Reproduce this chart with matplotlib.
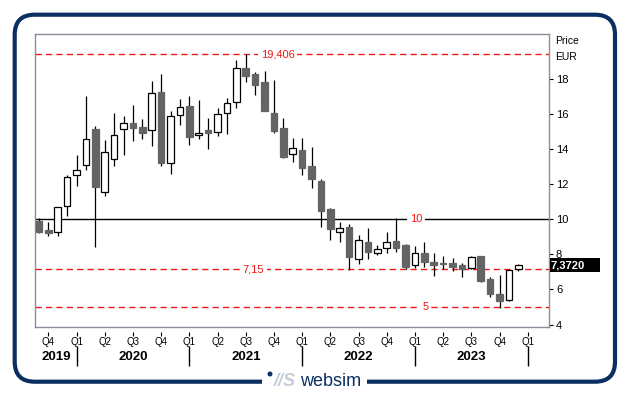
import matplotlib
matplotlib.use("Agg")
import matplotlib.pyplot as plt
import matplotlib.transforms as mtransforms
from matplotlib.patches import FancyBboxPatch, Rectangle, Circle
import pandas as pd

# ---------------------------------------------------------------------------
# Data: monthly candles, Sep 2019 .. Dec 2023 (EUR)
# ---------------------------------------------------------------------------
months = pd.period_range("2019-09", periods=52, freq="M")

opens = [9.90, 9.39, 9.29, 10.76, 12.53, 13.10, 15.13, 11.55, 13.45, 15.17,
         15.48, 15.25, 15.06, 17.24, 13.22, 15.92, 16.44, 14.83, 15.06, 15.00,
         16.03, 16.67, 18.62, 18.28, 17.83, 16.05, 15.19, 13.70, 13.93, 13.05,
         12.18, 10.59, 9.25, 9.54, 7.76, 8.68, 8.05, 8.39, 8.79, 8.52,
         7.37, 8.05, 7.59, 7.48, 7.51, 7.37, 7.22, 7.89, 6.57, 5.76,
         5.42, 7.15]
highs = [10.06, 9.83, 10.69, 12.55, 13.64, 17.05, 15.32, 14.50, 16.05, 15.86,
         16.51, 15.71, 17.87, 18.29, 16.18, 16.86, 17.01, 16.80, 15.75, 16.34,
         16.91, 19.10, 19.406, 18.39, 18.45, 17.95, 15.76, 14.61, 14.66, 14.14,
         12.32, 10.63, 9.86, 9.73, 9.10, 9.48, 8.52, 9.25, 10.06, 8.58,
         8.47, 8.68, 8.10, 7.89, 7.82, 7.51, 7.89, 7.89, 6.70, 6.80,
         7.15, 7.43]
lows = [9.20, 9.06, 9.06, 10.20, 11.87, 12.83, 8.43, 11.34, 13.02, 13.66,
        14.46, 14.60, 14.17, 13.02, 12.59, 15.38, 14.23, 14.60, 13.98, 14.75,
        14.84, 16.34, 17.82, 17.10, 16.18, 14.94, 13.47, 13.25, 12.55, 11.78,
        9.57, 8.81, 8.71, 7.09, 7.47, 7.72, 7.95, 8.05, 8.14, 7.18,
        7.25, 7.28, 6.76, 7.14, 7.05, 6.70, 7.14, 6.40, 5.55, 4.94,
        5.36, 7.05]
closes = [9.29, 9.23, 10.69, 12.41, 12.83, 14.60, 11.82, 13.85, 14.83, 15.46,
          15.21, 14.92, 17.18, 13.20, 15.86, 16.38, 14.69, 14.94, 14.92, 15.98,
          16.61, 18.62, 18.16, 17.68, 16.18, 15.03, 13.54, 14.04, 12.93, 12.30,
          10.49, 9.43, 9.48, 7.85, 8.81, 8.14, 8.31, 8.71, 8.39, 7.28,
          8.05, 7.56, 7.41, 7.46, 7.28, 7.14, 7.83, 6.51, 5.72, 5.36,
          7.13, 7.372]

# reference lines: (price, label, colour, style)
ref_prices = [19.406, 10, 7.15, 5]
ref_labels = ["19,406", "10", "7,15", "5"]
ref_label_x = [25.4, 40.1, 22.8, 41.1]
last_price = 7.372
last_label = "7,3720"
y_ticks = [4, 6, 8, 10, 12, 14, 16, 18]

NAVY = "#0b2f63"
RED = "#f01818"
FILL = "#646464"
FRAME = "#8c8c9c"
W, H = 629, 395

plt.rcParams["font.family"] = ["Liberation Sans", "DejaVu Sans"]

fig = plt.figure(figsize=(W / 100, H / 100), dpi=100)
fig.patch.set_facecolor("white")


def fx(px):
    return px / W


def fy(py):
    return 1 - py / H


ax = fig.add_axes([fx(35.3), fy(327), fx(549) - fx(35.3), fy(34) - fy(327)])
ax.set_xlim(-0.39, 54.26)
ax.set_ylim(3.86, 20.56)

x = list(range(len(months)))

# reference lines
for price, lab, lx in zip(ref_prices, ref_labels, ref_label_x):
    if lab == "10":
        ax.axhline(price, color="black", lw=1.0, zorder=1)
    else:
        ax.axhline(price, color=RED, lw=1.0, ls=(0, (4.5, 3)), zorder=1)
    ax.text(lx, price, lab, color=RED, fontsize=8, ha="center", va="center",
            zorder=2, bbox=dict(boxstyle="square,pad=0.25", fc="white", ec="none"))

# candles
ax.vlines(x, lows, highs, color="black", lw=0.9, zorder=3)
bottoms = [min(o, c) for o, c in zip(opens, closes)]
heights = [max(abs(c - o), 0.02) for o, c in zip(opens, closes)]
faces = ["white" if c > o else FILL for o, c in zip(opens, closes)]
edges = ["black" if c > o else FILL for o, c in zip(opens, closes)]
ax.bar(x, heights, bottom=bottoms, width=0.7, color=faces, edgecolor=edges,
       linewidth=0.9, zorder=4)

# frame
for s in ax.spines.values():
    s.set_color(FRAME)
    s.set_linewidth(1.0)

# y axis on the right
ax.yaxis.tick_right()
ax.set_yticks(y_ticks)
ax.set_yticklabels([str(t) for t in y_ticks])
ax.tick_params(axis="y", length=3, width=0.8, pad=2, labelsize=8, colors="black")
ax.tick_params(axis="y", which="both", color="black")

# x axis: quarter labels
q_idx = [i for i, m in enumerate(months) if m.month in (1, 4, 7, 10)] + [len(months)]
q_lab = ["Q%d" % ((m.month - 1) // 3 + 1) for m in months if m.month in (1, 4, 7, 10)] + ["Q1"]
ax.set_xticks(q_idx)
ax.set_xticklabels(q_lab)
ax.tick_params(axis="x", length=0, pad=7, labelsize=7)

trans_xf = mtransforms.blended_transform_factory(ax.transData, fig.transFigure)
ax.vlines(q_idx, fy(336), fy(332), color="black", lw=0.8, transform=trans_xf, clip_on=False)

# year separators and labels
jan_idx = [i for i, m in enumerate(months) if m.month == 1] + [len(months)]
ax.vlines(jan_idx, fy(366), fy(346), color="black", lw=1.0, transform=trans_xf, clip_on=False)
bounds = [-0.39] + jan_idx
years = ["2019", "2020", "2021", "2022", "2023"]
for yr, a, b in zip(years, bounds[:-1], bounds[1:]):
    ax.text((a + b) / 2, fy(356.5), yr, transform=trans_xf, ha="center", va="center",
            fontsize=9.5, fontweight="bold")

# axis caption
fig.text(fx(555), fy(41.5), "Price", fontsize=7.5, ha="left", va="center")
fig.text(fx(555), fy(57), "EUR", fontsize=7.5, ha="left", va="center")

# last price box
trans_fd = mtransforms.blended_transform_factory(fig.transFigure, ax.transData)
ax.add_patch(Rectangle((fx(549.5), last_price - 0.40), fx(600) - fx(549.5), 0.80,
                       transform=trans_fd, facecolor="black", edgecolor="none",
                       clip_on=False, zorder=5))
ax.text(fx(550.5), last_price, last_label, transform=trans_fd, color="white",
        fontsize=8, fontweight="bold", ha="left", va="center", zorder=6)

# outer rounded border
fig.patches.append(FancyBboxPatch(
    (0.147, (H - 381.7) / 100), (615 - 14.7) / 100, (381.7 - 14.7) / 100,
    boxstyle="round,pad=0,rounding_size=0.2", transform=fig.dpi_scale_trans,
    facecolor="none", edgecolor=NAVY, linewidth=3.0, figure=fig))
fig.patches.append(Rectangle((fx(262), fy(390)), fx(367) - fx(262), fy(374) - fy(390),
                             transform=fig.transFigure, facecolor="white",
                             edgecolor="none", figure=fig))

# logo
fig.patches.append(Circle((2.70, (H - 374) / 100), 0.025, transform=fig.dpi_scale_trans,
                          facecolor=NAVY, edgecolor="none", figure=fig))
fig.text(fx(285), fy(381.5), "//S", fontsize=13, fontweight="bold", style="italic",
         color="#c3cedb", ha="center", va="center")
fig.text(fx(300), fy(381.5), "websim", fontsize=13, color=NAVY, ha="left", va="center")

fig.savefig("out.png", dpi=100)
